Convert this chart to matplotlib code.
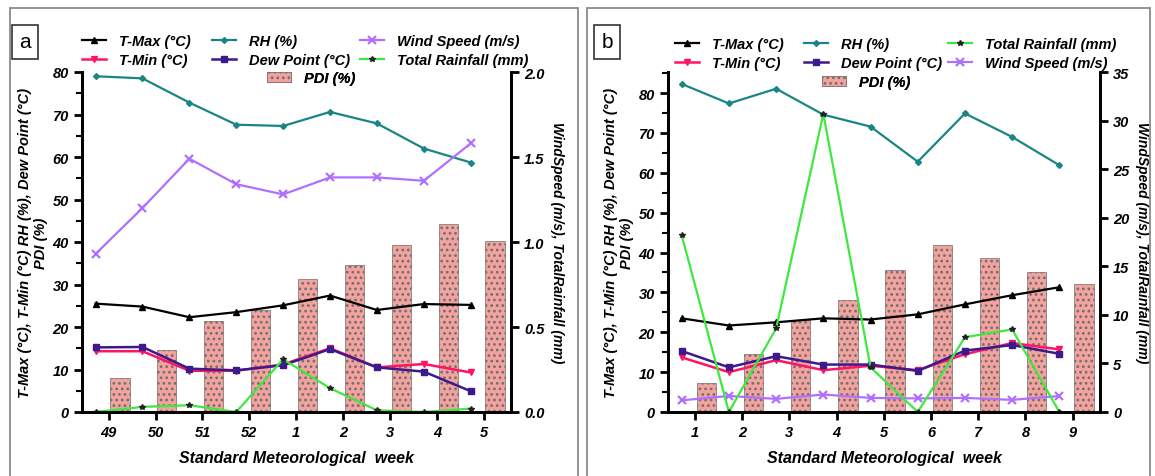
import numpy as np
import matplotlib
matplotlib.use("Agg")
import matplotlib.pyplot as plt
from matplotlib.patches import Rectangle
from matplotlib.ticker import MultipleLocator

plt.rcParams['font.family'] = ['Liberation Sans', 'DejaVu Sans']
plt.rcParams['font.weight'] = 'bold'
plt.rcParams['font.style'] = 'italic'
plt.rcParams['hatch.linewidth'] = 1.2

# panel a data
weeks_a = ['49', '50', '51', '52', '1', '2', '3', '4', '5']
tmax_a = [25.5, 24.8, 22.3, 23.5, 25.1, 27.4, 24.0, 25.4, 25.2]
tmin_a = [14.3, 14.3, 9.7, 9.7, 11.2, 15.0, 10.5, 11.3, 9.3]
rh_a = [79.0, 78.5, 72.8, 67.6, 67.3, 70.6, 67.9, 62.0, 58.7]
dew_a = [15.2, 15.3, 10.2, 9.8, 11.0, 14.8, 10.5, 9.5, 4.9]
wind_a = [0.93, 1.20, 1.49, 1.34, 1.28, 1.38, 1.38, 1.36, 1.58]
rain_a = [0.0, 0.03, 0.04, 0.0, 0.31, 0.14, 0.01, 0.0, 0.02]
pdi_a = [8.1, 14.7, 21.3, 24.1, 31.3, 34.6, 39.2, 44.3, 40.2]

# panel b data
weeks_b = ['1', '2', '3', '4', '5', '6', '7', '8', '9']
tmax_b = [23.5, 21.7, 22.5, 23.5, 23.2, 24.5, 27.0, 29.3, 31.3]
tmin_b = [13.7, 10.0, 13.0, 10.5, 11.6, 10.5, 14.5, 17.3, 15.7]
rh_b = [82.3, 77.4, 81.1, 74.6, 71.6, 62.8, 74.9, 69.0, 61.9]
dew_b = [15.3, 11.2, 14.0, 11.9, 11.9, 10.3, 15.4, 16.8, 14.6]
wind_b = [1.2, 1.65, 1.35, 1.8, 1.45, 1.4, 1.45, 1.25, 1.65]
rain_b = [18.2, 0.0, 8.6, 30.7, 4.6, 0.0, 7.7, 8.5, 0.0]
pdi_b = [7.3, 14.5, 23.0, 28.2, 35.7, 41.8, 38.6, 35.2, 32.0]

W, H = 1155, 477
fig = plt.figure(figsize=(W / 100, H / 100), dpi=100)

def fx(px):
    return px / W

def fy(py):
    return 1 - py / H

c_tmax = 'black'
c_tmin = '#ff1464'
c_rh = '#1b8585'
c_dew = '#3c1a8c'
c_wind = '#b070ff'
c_rain = '#3ee83e'

LEGKW = dict(frameon=False, fontsize=10.5, handlelength=1.65, handletextpad=0.9,
             labelspacing=0.3, borderaxespad=0, borderpad=0, loc='center left',
             bbox_transform=fig.transFigure)


def panel(rect, weeks, tmax, tmin, rh, dew, wind, rain, pdi,
          ytop, rtop, rstep, rfmt, rain_first, colx, rowy, pdix, pdiy):
    ax = fig.add_axes(rect)
    ax2 = ax.twinx()
    x = np.arange(len(weeks))
    xl = x - 0.28
    xb = x + 0.24
    b = ax.bar(xb, pdi, width=0.41, color='#f4a29e', edgecolor='#707070',
               linewidth=0.5, hatch='...', label='PDI (%)', zorder=1)
    l1, = ax.plot(xl, tmax, color=c_tmax, marker='^', ms=5, lw=1.6, label='T-Max (°C)', zorder=3)
    l2, = ax.plot(xl, tmin, color=c_tmin, marker='v', ms=5, lw=1.8, label='T-Min (°C)', zorder=3)
    l3, = ax.plot(xl, rh, color=c_rh, marker='D', ms=3, lw=1.6, label='RH (%)', zorder=3)
    l4, = ax.plot(xl, dew, color=c_dew, marker='s', ms=5, lw=1.8, label='Dew Point (°C)', zorder=3)
    l5, = ax2.plot(xl, wind, color=c_wind, marker='x', ms=6, mew=1.6, lw=1.6, label='Wind Speed (m/s)')
    l6, = ax2.plot(xl, rain, color=c_rain, marker='*', ms=4, mfc='#222222', mec='#222222',
                   lw=1.6, label='Total Rainfall (mm)')

    ax.set_xlim(-0.57, len(weeks) - 1 + 0.58)
    ax.set_ylim(0, ytop)
    ax2.set_ylim(0, rtop)
    ax.set_xticks(x)
    ax.set_xticklabels(weeks)
    ax.yaxis.set_major_locator(MultipleLocator(10))
    ax.yaxis.set_minor_locator(MultipleLocator(5))
    ax2.yaxis.set_major_locator(MultipleLocator(rstep))
    ax2.yaxis.set_major_formatter(rfmt)

    for a in (ax, ax2):
        a.spines['top'].set_visible(False)
        for s in ('left', 'right', 'bottom'):
            a.spines[s].set_linewidth(2)
        a.tick_params(width=2, length=6, labelsize=10.5, direction='out')
        a.tick_params(which='minor', width=1.5, length=4)
        for t in a.get_xticklabels() + a.get_yticklabels():
            t.set_fontweight('bold')
            t.set_fontstyle('italic')

    ax.set_xlabel('Standard Meteorological  week', fontsize=11.5, fontweight='bold',
                  fontstyle='italic', labelpad=8)
    ax.set_ylabel('T-Max (°C), T-Min (°C) RH (%), Dew Point (°C)\nPDI (%)',
                  fontsize=10.5, fontweight='bold', fontstyle='italic', linespacing=1.2,
                  labelpad=3)
    ax2.set_ylabel('WindSpeed (m/s), TotalRainfall (mm)', rotation=270, fontsize=10,
                   fontweight='bold', fontstyle='italic', labelpad=14)

    if rain_first:
        cols = [[l1, l2], [l3, l4], [l6, l5]]
    else:
        cols = [[l1, l2], [l3, l4], [l5, l6]]
    ymid = fy((rowy[0] + rowy[1]) / 2)
    for hs, cx in zip(cols, colx):
        leg = ax.legend(handles=hs, bbox_to_anchor=(fx(cx), ymid), **LEGKW)
        ax.add_artist(leg)
    leg = ax.legend(handles=[b], bbox_to_anchor=(fx(pdix), fy(pdiy)), **LEGKW)
    ax.add_artist(leg)
    return ax


# panel frames
fig.patches.append(Rectangle((fx(10), -0.02), fx(578) - fx(10), fy(9) + 0.02,
                             transform=fig.transFigure, fill=False,
                             edgecolor='#8a8a8a', lw=1.3))
fig.patches.append(Rectangle((fx(587), -0.02), fx(1150) - fx(587), fy(9) + 0.02,
                             transform=fig.transFigure, fill=False,
                             edgecolor='#8a8a8a', lw=1.3))

panel([fx(82), fy(413), fx(511) - fx(82), fy(73) - fy(413)],
      weeks_a, tmax_a, tmin_a, rh_a, dew_a, wind_a, rain_a, pdi_a,
      80, 2.0, 0.5, '{x:.1f}', False,
      colx=(82, 212, 360), rowy=(42, 61), pdix=267, pdiy=79)
panel([fx(668), fy(413), fx(1100) - fx(668), fy(73) - fy(413)],
      weeks_b, tmax_b, tmin_b, rh_b, dew_b, wind_b, rain_b, pdi_b,
      85.3, 35, 5, '{x:.0f}', True,
      colx=(675, 804, 948), rowy=(45, 64), pdix=822, pdiy=83)

for lab, px in (('a', 25), ('b', 607)):
    fig.text(fx(px), fy(43), lab, fontsize=15, fontweight='normal', fontstyle='normal',
             ha='center', va='center',
             bbox=dict(boxstyle='square,pad=0.35', fc='white', ec='#333333', lw=1.2))

fig.savefig('out.png', dpi=100)
